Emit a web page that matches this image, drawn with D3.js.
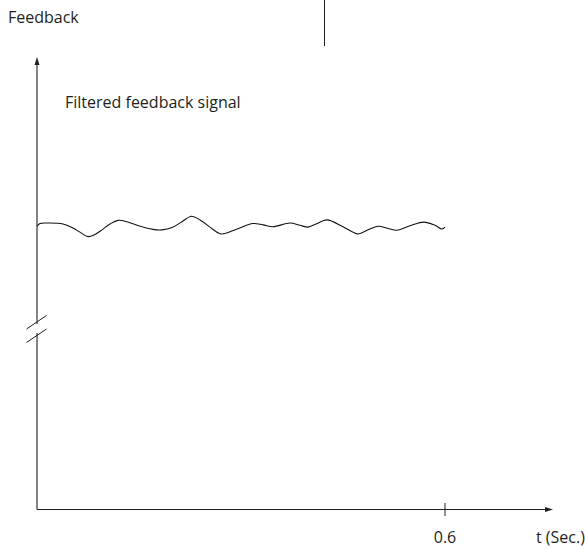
<!DOCTYPE html>
<html>
<head>
<meta charset="utf-8">
<script src="https://cdn.jsdelivr.net/npm/d3@7"></script>
<style>
  html, body { margin: 0; padding: 0; background: #fff; }
  svg { display: block; }
  text { font-family: "Open Sans", sans-serif; font-size: 16px; fill: #231f20; }
</style>
</head>
<body>
<div id="chart"></div>
<script>
// ---- data ----
const timeValues = [0, 0.0044, 0.0162, 0.0382, 0.0529, 0.0632, 0.0750, 0.0853, 0.0956, 0.1074,
  0.1191, 0.1324, 0.1471, 0.1706, 0.1838, 0.1985, 0.2132, 0.2272, 0.2397, 0.2544,
  0.2706, 0.2926, 0.3176, 0.3324, 0.3471, 0.3721, 0.3868, 0.3985, 0.4103, 0.4265,
  0.4500, 0.4721, 0.4868, 0.5015, 0.5162, 0.5294, 0.5485, 0.5691, 0.5853, 0.5956, 0.6];
const feedbackValues = [62.6, 63.2, 63.3, 63.1, 62.2, 61.3, 60.3, 60.8, 61.8, 63.1,
  63.9, 63.6, 62.8, 61.9, 61.8, 62.3, 63.6, 64.8, 64.0, 62.4,
  60.9, 61.9, 63.2, 62.9, 62.5, 63.3, 62.8, 62.4, 63.1, 64.0,
  62.5, 60.9, 61.8, 62.6, 62.1, 61.7, 62.7, 63.5, 62.8, 62.0, 62.4];
const xTickValues = [0.6];
const xTickLabels = ["0.6"];
const yAxisTitle = "Feedback";
const xAxisTitle = "t (Sec.)";
const seriesLabel = "Filtered feedback signal";

// ---- layout ----
const W = 585, H = 549;
const ink = "#231f20";
const x0 = 37, xEnd = 553, xTickPx = 445;
const yBase = 509.5, yTop = 57;

const svg = d3.select("#chart").append("svg")
  .attr("width", W).attr("height", H);

const x = d3.scaleLinear().domain([0, 0.6]).range([x0, xTickPx]);
const y = d3.scaleLinear().domain([0, 100]).range([yBase, yTop]);

// stray vertical line at top
svg.append("line")
  .attr("x1", 324.5).attr("x2", 324.5).attr("y1", 0).attr("y2", 46)
  .attr("stroke", ink).attr("stroke-width", 1);

// y axis with break
const breakTop = 324, breakBot = 333;
svg.append("line").attr("x1", x0).attr("x2", x0).attr("y1", yTop + 6).attr("y2", breakTop)
  .attr("stroke", ink).attr("stroke-width", 1.1);
svg.append("line").attr("x1", x0).attr("x2", x0).attr("y1", breakBot).attr("y2", yBase)
  .attr("stroke", ink).attr("stroke-width", 1.1);
// break marks
[[26.5, 329, 46.5, 315.5], [26.5, 342.5, 46.5, 329]].forEach(d => {
  svg.append("line").attr("x1", d[0]).attr("y1", d[1]).attr("x2", d[2]).attr("y2", d[3])
    .attr("stroke", ink).attr("stroke-width", 1);
});
// y arrow head
svg.append("path")
  .attr("d", `M${x0},${yTop} L${x0 - 2.5},${yTop + 8} L${x0 + 2.5},${yTop + 8} Z`)
  .attr("fill", ink);

// x axis via d3 axis
const xAxisScale = d3.scaleLinear().domain([0, 0.6]).range([x0, xTickPx]);
const gx = svg.append("g").attr("transform", `translate(0,${yBase})`)
  .call(d3.axisBottom(xAxisScale).tickValues(xTickValues).tickSize(0).tickFormat(() => ""));
gx.select(".domain").remove();
svg.append("line").attr("x1", x0).attr("x2", xEnd - 7).attr("y1", yBase).attr("y2", yBase)
  .attr("stroke", ink).attr("stroke-width", 1.1);
svg.append("path")
  .attr("d", `M${xEnd},${yBase} L${xEnd - 8},${yBase - 2.5} L${xEnd - 8},${yBase + 2.5} Z`)
  .attr("fill", ink);
// ticks crossing axis
xTickValues.forEach((v, i) => {
  svg.append("line").attr("x1", x(v)).attr("x2", x(v)).attr("y1", yBase - 6.5).attr("y2", yBase + 6.5)
    .attr("stroke", ink).attr("stroke-width", 1);
  svg.append("text").attr("x", x(v)).attr("y", 543).attr("text-anchor", "middle").text(xTickLabels[i]);
});

// titles
svg.append("text").attr("x", 8).attr("y", 23).text(yAxisTitle);
svg.append("text").attr("x", 536).attr("y", 543).text(xAxisTitle);
svg.append("text").attr("x", 65).attr("y", 108).text(seriesLabel);

// signal line
const pts = timeValues.map((t, i) => [t, feedbackValues[i]]);
const line = d3.line().x(d => x(d[0])).y(d => y(d[1])).curve(d3.curveCatmullRom.alpha(0.5));
svg.append("path").datum(pts)
  .attr("d", line)
  .attr("fill", "none").attr("stroke", "#111").attr("stroke-width", 1.1);
</script>
</body>
</html>
